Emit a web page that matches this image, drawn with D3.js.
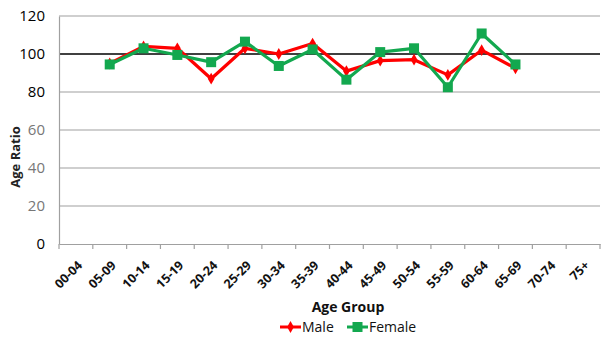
<!DOCTYPE html>
<html><head><meta charset="utf-8">
<script src="https://cdn.jsdelivr.net/npm/d3@7"></script>
<style>body{margin:0;background:#fff}</style>
</head><body>
<svg id="c" width="602" height="340"></svg>
<script>
const categories = ["00-04","05-09","10-14","15-19","20-24","25-29","30-34","35-39","40-44","45-49","50-54","55-59","60-64","65-69","70-74","75+"];
const maleValues = [null,95,104,103,87,103,100,105.5,91,96.5,97,89,102,92.5,null,null];
const femaleValues = [null,94.5,103,99.5,95.7,106.5,93.7,102.4,86.5,101,103,82.5,110.8,94.5,null,null];
const yTicks = [0,20,40,60,80,100,120];
const yTickColors = ["#000","#777","#777","#777","#000","#000","#000"];

const svg = d3.select("#c");
const font = "'Open Sans', 'Liberation Sans', sans-serif";
const m = {l:59, r:2, t:16, b:96};
const W = 602, H = 340;
const x = d3.scaleBand().domain(categories).range([m.l, W - m.r]);
const y = d3.scaleLinear().domain([0,120]).range([H - m.b, m.t]);

// gridlines
svg.append("g").selectAll("line").data(yTicks.filter(d=>d>0)).join("line")
  .attr("x1", m.l).attr("x2", W - m.r)
  .attr("y1", d=>y(d)).attr("y2", d=>y(d))
  .attr("stroke", d=> d===100 ? "#000" : "#a0a0a0")
  .attr("stroke-width", d=> d===100 ? 1.5 : 1.2);

// y axis
const ya = svg.append("g").attr("transform",`translate(${m.l},0)`)
  .call(d3.axisLeft(y).tickValues(yTicks).tickSize(0).tickPadding(14));
ya.select(".domain").attr("stroke","#a0a0a0").attr("stroke-width",1.2);
ya.selectAll("text").attr("font-family",font).attr("font-size",15)
  .attr("fill",(d,i)=>yTickColors[i]);

// x axis
const xa = svg.append("g").attr("transform",`translate(0,${y(0)})`)
  .call(d3.axisBottom(x).tickSize(0));
xa.select(".domain").attr("stroke","#a0a0a0").attr("stroke-width",1.2);
xa.selectAll(".tick line").remove();
xa.selectAll(".tick text")
  .attr("font-family",font).attr("font-size",12.5).attr("font-weight","bold").attr("fill","#111")
  .attr("text-anchor","end")
  .attr("transform","translate(4,19) rotate(-45)")
  .attr("dy","0.35em").attr("y",0);
// tick marks at band boundaries
svg.append("g").selectAll("line").data(categories.map(c=>x(c)).concat([x(categories[categories.length-1])+x.bandwidth()]))
  .join("line").attr("x1",d=>d).attr("x2",d=>d).attr("y1",y(0)).attr("y2",y(0)+5)
  .attr("stroke","#a0a0a0").attr("stroke-width",1.2);

const cx = c => x(c) + x.bandwidth()/2;
const line = vals => d3.line().defined(d=>d[1]!=null).x(d=>cx(d[0])).y(d=>y(d[1]))(categories.map((c,i)=>[c,vals[i]]));

// male
svg.append("path").attr("d", line(maleValues)).attr("fill","none").attr("stroke","#ff0000").attr("stroke-width",3.2).attr("stroke-linejoin","round");
svg.append("g").selectAll("path").data(categories.map((c,i)=>[c,maleValues[i]]).filter(d=>d[1]!=null)).join("path")
  .attr("d", d3.symbol(d3.symbolDiamond, 40)).attr("transform",d=>`translate(${cx(d[0])},${y(d[1])})`).attr("fill","#ff0000");
// female
svg.append("path").attr("d", line(femaleValues)).attr("fill","none").attr("stroke","#13a84f").attr("stroke-width",3.2).attr("stroke-linejoin","round");
svg.append("g").selectAll("rect").data(categories.map((c,i)=>[c,femaleValues[i]]).filter(d=>d[1]!=null)).join("rect")
  .attr("x",d=>cx(d[0])-5).attr("y",d=>y(d[1])-5).attr("width",10).attr("height",10).attr("fill","#13a84f");

// axis titles
svg.append("text").attr("transform",`translate(20,${(m.t+y(0))/2+27}) rotate(-90)`)
  .attr("text-anchor","middle").attr("font-family",font).attr("font-size",13).attr("font-weight","bold").attr("fill","#222")
  .text("Age Ratio");
svg.append("text").attr("x",348).attr("y",312).attr("text-anchor","middle")
  .attr("font-family",font).attr("font-size",14).attr("font-weight","bold").attr("fill","#111").text("Age Group");

// legend
const lg = svg.append("g").attr("transform","translate(0,327)");
lg.append("line").attr("x1",280).attr("x2",301).attr("y1",0).attr("y2",0).attr("stroke","#ff0000").attr("stroke-width",3);
lg.append("path").attr("d",d3.symbol(d3.symbolDiamond,40)).attr("transform","translate(290.5,0)").attr("fill","#ff0000");
lg.append("text").attr("x",302).attr("y",5).attr("font-family",font).attr("font-size",14).attr("fill","#111").text("Male");
lg.append("line").attr("x1",347).attr("x2",368).attr("y1",0).attr("y2",0).attr("stroke","#13a84f").attr("stroke-width",3);
lg.append("rect").attr("x",352.5).attr("y",-5).attr("width",10).attr("height",10).attr("fill","#13a84f");
lg.append("text").attr("x",369).attr("y",5).attr("font-family",font).attr("font-size",14).attr("fill","#111").text("Female");
</script>
</body></html>
